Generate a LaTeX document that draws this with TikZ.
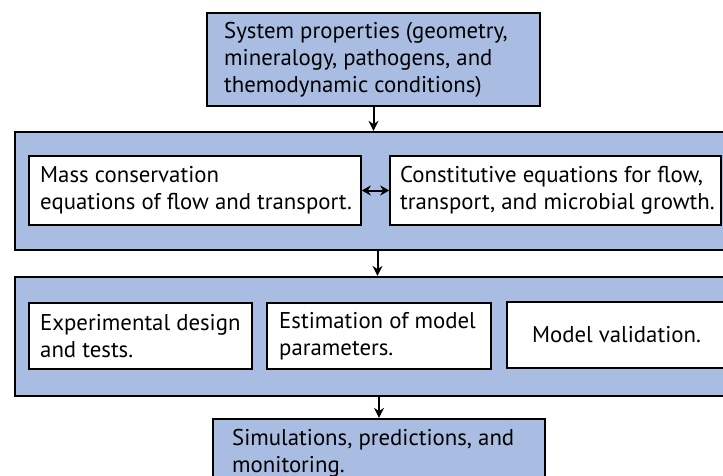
\documentclass[tikz,border=0pt]{standalone}
\usepackage{fontspec}
\setmainfont{PT Sans}
\usetikzlibrary{arrows.meta}
\definecolor{boxblue}{RGB}{169,189,226}
\begin{document}
\begin{tikzpicture}[x=1pt,y=-1pt,
 outer/.style={draw=black, line width=2.2pt, fill=boxblue, inner sep=0pt},
 inner/.style={draw=black, line width=1.6pt, fill=white, inner sep=0pt},
 txt/.style={font=\fontsize{22.8}{27}\selectfont, align=left, inner sep=0pt, anchor=west},
 arr/.style={line width=2pt, -{Stealth[length=10pt,width=10pt]}},
 darr/.style={line width=2pt, {Stealth[length=9pt,width=10pt]}-{Stealth[length=9pt,width=10pt]}}]
\useasboundingbox (0,0) rectangle (723,476);
\clip (0,0) rectangle (723,476);
% top box
\node[outer, minimum width=333pt, minimum height=93pt] (sys) at (373.5,59.5) {};
\node[txt] (systxt) at (224,59.5) {System properties (geometry,\\mineralogy, pathogens, and\\themodynamic conditions)};
% box 1
\node[outer, minimum width=725pt, minimum height=118pt] (box1) at (377.5,191) {};
\node[inner, minimum width=332pt, minimum height=69pt] (mass) at (195,190.5) {};
\node[inner, minimum width=331pt, minimum height=69pt] (const) at (555.5,190.5) {};
\node[txt] (masstxt) at (40,190.5) {Mass conservation\\equations of flow and transport.};
\node[txt] (consttxt) at (400,190.5) {Constitutive equations for flow,\\transport, and microbial growth.};
% box 2
\node[outer, minimum width=725pt, minimum height=119pt] (box2) at (377.5,336.5) {};
\node[inner, minimum width=223pt, minimum height=66pt] (exp) at (140.5,336) {};
\node[inner, minimum width=224pt, minimum height=66pt] (est) at (379,336) {};
\node[inner, minimum width=219pt, minimum height=66pt] (val) at (616.5,335) {};
\node[txt] (exptxt) at (40,336) {Experimental design\\and tests.};
\node[txt] (esttxt) at (279,336) {Estimation of model\\parameters.};
\node[txt, anchor=center] (valtxt) at (val.center) {Model validation.};
% bottom box
\node[outer, minimum width=332pt, minimum height=91pt] (sim) at (379,464.5) {};
\node[txt, anchor=north west] (simtxt) at (232,429) {Simulations, predictions, and\\monitoring.};
% connectors
\draw[arr] (sys.south) -- (sys.south |- box1.north);
\draw[darr] (mass.east) -- (const.west);
\draw[arr] (box1.south) -- (box1.south |- box2.north);
\draw[arr] (box2.south -| sim.north) -- (sim.north);
\end{tikzpicture}
\end{document}
